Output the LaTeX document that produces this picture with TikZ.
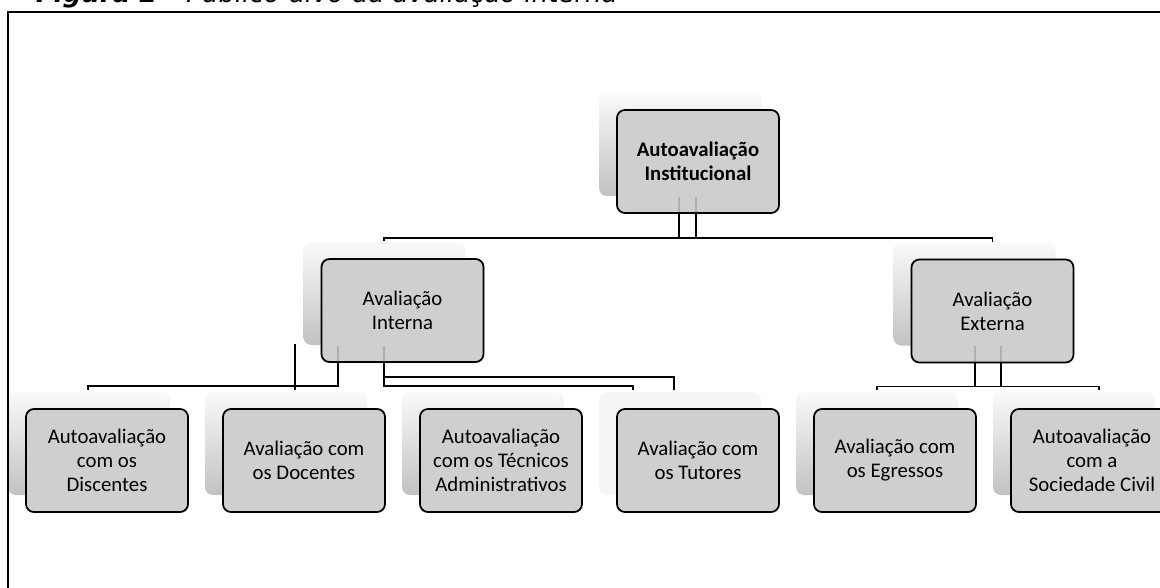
\documentclass[tikz,border=0pt]{standalone}
\usepackage{fontspec}
\setmainfont{Carlito}
\newfontfamily\titlefont{DejaVu Sans}
\usetikzlibrary{calc}
\definecolor{boxgray}{RGB}{207,207,207}
\pgfdeclarelayer{shadowlayer}
\pgfdeclarelayer{underlayer}
\pgfdeclarelayer{connlayer}
\pgfsetlayers{shadowlayer,underlayer,connlayer,main}
\tikzset{
  orgbox/.style={draw=black, line width=1.7pt, rounded corners=8pt, fill=boxgray,
    fill opacity=0.85, text opacity=1, minimum width=162pt, minimum height=103pt,
    inner sep=0pt, align=center, font=\fontsize{20.8}{24}\selectfont},
  shadowbox/.style={rounded corners=8pt, minimum width=162pt, minimum height=103pt,
    inner sep=0pt, top color=black!2, middle color=black!6, bottom color=black!24},
  lightshadow/.style={rounded corners=8pt, minimum width=162pt, minimum height=103pt,
    inner sep=0pt, fill=black!4},
  underfill/.style={fill=boxgray, rounded corners=8pt},
  conn/.style={draw=black, line width=1.6pt},
  frameline/.style={draw=black, line width=2pt}
}
\begin{document}
\begin{tikzpicture}[x=1pt,y=-1pt]
\clip (0,0) rectangle (1160,588);
\useasboundingbox (0,0) rectangle (1160,588);
% frame and title
\draw[frameline] (8,640) -- (8,12) -- (1200,12);
\node[anchor=base west, inner sep=0pt, font=\titlefont\fontsize{26}{30}\selectfont\itshape] (title) at (36,3)
  {\bfseries Figura 2 - \mdseries Público-alvo da avaliação interna};
% boxes
\node[orgbox] (T) at (698,161.5) {\bfseries Autoavaliação\\\bfseries Institucional};
\node[orgbox] (I) at (402.5,310.5) {Avaliação\\Interna};
\node[orgbox] (E) at (992.5,311) {Avaliação\\Externa};
\node[orgbox] (D1) at (107,460.5) {Autoavaliação\\com os\\Discentes};
\node[orgbox] (D2) at (304,460.5) {Avaliação com\\os Docentes};
\node[orgbox] (D3) at (501,460.5) {Autoavaliação\\com os Técnicos\\Administrativos};
\node[orgbox] (D4) at (698,460.5) {Avaliação com\\os Tutores};
\node[orgbox] (D5) at (895,460.5) {Avaliação com\\os Egressos};
\node[orgbox] (D6) at (1092,460.5) {Autoavaliação\\com a\\Sociedade Civil};
% shadows
\begin{pgfonlayer}{shadowlayer}
\fill[white] (0,0) rectangle (1160,588);
\node[shadowbox] (sT) at ($(T)+(-18,-17)$) {};
\node[shadowbox] (sI) at ($(I)+(-18,-17)$) {};
\node[shadowbox] (sE) at ($(E)+(-18,-17)$) {};
\node[shadowbox] (sD1) at ($(D1)+(-18,-17)$) {};
\node[shadowbox] (sD2) at ($(D2)+(-18,-17)$) {};
\node[shadowbox] (sD3) at ($(D3)+(-18,-17)$) {};
\node[lightshadow] (sD4) at ($(D4)+(-18,-17)$) {};
\node[shadowbox] (sD5) at ($(D5)+(-18,-17)$) {};
\node[shadowbox] (sD6) at ($(D6)+(-18,-17)$) {};
\end{pgfonlayer}
% opaque fill under each box (hides the shadow behind it)
\begin{pgfonlayer}{underlayer}
\foreach \b in {T,I,E,D1,D2,D3,D4,D5,D6}
  \fill[underfill] (\b.south west) rectangle (\b.north east);
\end{pgfonlayer}
% connectors
\begin{pgfonlayer}{connlayer}
\draw[conn] ($(T.south)+(-19,-17)$) -- ($(T.south)+(-19,24)$);
\draw[conn] ($(T.south)+(-2,-17)$) -- ($(T.south)+(-2,24)$);
\draw[conn] ($(I.north)+(-18.5,-17)$) |- ($(T.south)+(0,24)$) -| ($(E.north)+(0,-17)$);
\draw[conn] ($(I.south)+(-64.5,-17)$) -- ($(I.south)+(-64.5,23)$) -| ($(D1.north)+(-19,-18)$);
\draw[conn] ($(D2.north)+(-9,-64)$) -- ($(D2.north)+(-9,-18)$);
\draw[conn] ($(I.south)+(-18.5,-17)$) -- ($(I.south)+(-18.5,23)$) -| ($(D4.north)+(-65,-18)$);
\draw[conn] ($(I.south)+(-18.5,14)$) -| ($(D4.north)+(-24,-18)$);
\draw[conn] ($(E.south)+(-17.5,-17)$) -- ($(E.south)+(-17.5,23)$);
\draw[conn] ($(E.south)+(8.5,-17)$) -- ($(E.south)+(8.5,23)$);
\draw[conn] ($(D5.north)+(-18,-18)$) |- ($(E.south)+(0,23)$) -| ($(D6.north)+(7,-18)$);
\end{pgfonlayer}
\end{tikzpicture}
\end{document}
